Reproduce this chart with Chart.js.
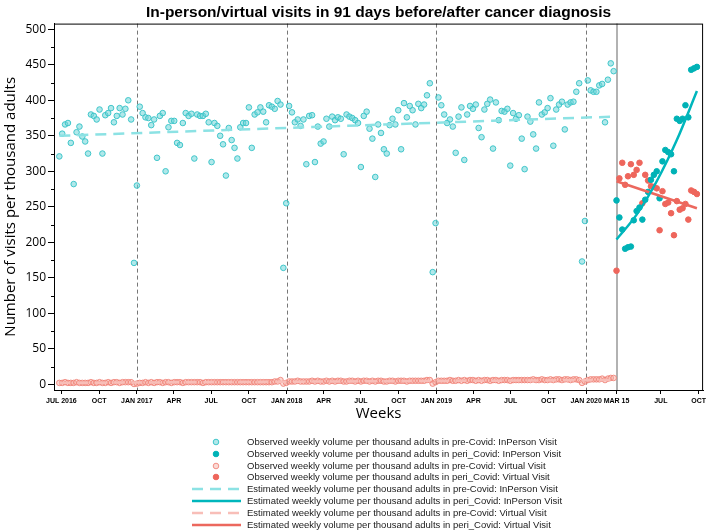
<!DOCTYPE html>
<html><head><meta charset="utf-8">
<script src="https://cdn.jsdelivr.net/npm/chart.js@4.4.1/dist/chart.umd.min.js"></script>
<style>
html,body{margin:0;padding:0;background:#fff;}
#wrap{position:relative;width:709px;height:530px;overflow:hidden;}
#c{position:absolute;left:0;top:0;}
#legend{position:absolute;left:0;top:0;width:709px;height:530px;pointer-events:none;font-family:"Liberation Sans",Arial,sans-serif;font-size:9.5px;color:#1a1a1a;}
.row{position:absolute;left:188px;height:12px;display:flex;align-items:center;white-space:nowrap;}
.row svg{width:56px;height:12px;flex:none;}
.row span{margin-left:3px;line-height:12px;}
</style></head>
<body><div id="wrap"><canvas id="c" width="709" height="530"></canvas><div id="legend"></div></div>
<script>
// ---------------- data ----------------
const chartTitle = 'In-person/virtual visits in 91 days before/after cancer diagnosis';
const yTitle = 'Number of visits per thousand adults';
const xTitle = 'Weeks';
const preStartDate = '2016-06-26';   // first pre-Covid week
const periStartDate = '2020-03-15';  // first peri-Covid week
const xMinDate = '2016-06-13';
const xMaxDate = '2020-10-12';
const tickDates = ['2016-07-01','2016-10-01','2017-01-01','2017-04-01','2017-07-01','2017-10-01','2018-01-01','2018-04-01','2018-07-01','2018-10-01','2019-01-01','2019-04-01','2019-07-01','2019-10-01','2020-01-01','2020-03-15','2020-07-01','2020-10-01'];
const tickLabels = ['JUL 2016','OCT','JAN 2017','APR','JUL','OCT','JAN 2018','APR','JUL','OCT','JAN 2019','APR','JUL','OCT','JAN 2020','MAR 15','JUL','OCT'];
const dashedRefDates = ['2017-01-01','2018-01-01','2019-01-01','2020-01-01'];
const solidRefDate = '2020-03-15';
const yTicks = [0,50,100,150,200,250,300,350,400,450,500];
const yMinorTicks = [25,75,125,175,225,275,325,375,425,475];

const preInPerson = [
 321,353,366,368,340,282,355,363,349,342,
 325,380,378,373,387,325,379,382,389,369,
 378,389,380,388,400,373,171,280,391,382,
 376,375,365,373,319,378,382,300,362,371,
 371,340,337,368,382,378,381,318,380,378,
 378,381,369,313,368,364,350,338,294,361,
 344,333,318,362,368,368,390,333,380,383,
 390,384,369,393,391,388,399,394,164,255,
 392,383,369,373,364,373,310,378,379,313,
 363,339,342,374,363,377,372,376,374,324,
 380,377,375,372,368,306,378,384,360,346,
 292,366,354,331,325,365,374,366,386,331,
 396,376,392,386,366,395,389,394,407,424,
 158,227,404,393,380,368,373,363,326,377,
 390,316,380,392,388,394,361,348,387,395,
 401,332,397,372,385,384,388,308,382,374,
 379,346,303,377,370,352,332,397,380,383,
 389,403,336,387,394,398,359,394,397,398,
 412,424,173,230,428,414,412,412,421,423,
 369,429,452,441];

const preVirtual = [
 2,2,3,2,2,2,3,2,2,2,2,3,2,2,3,2,2,3,2,3,3,2,3,3,3,3,
 0.5,1,
 2,2,3,2,3,2,3,3,2,3, 3,2,3,3,3,2,3,3,3,3, 3,3,2,3,3,3,3,3,3,3, 3,3,3,3,3,3,3,3,3,3, 3,3,3,3,3,3,3,4,4,6,
 1,2,
 4,4,4,5,4,4,4,4,5,4, 5,4,4,5,4,5,4,5,5,4, 4,5,5,4,5,4,5,5,4,5, 4,5,5,4,4,5,5,4,5,5, 5,4,5,5,5,5,5,5,6,6,
 1,3,
 5,5,5,5,6,5,5,6,5,6, 5,6,6,5,6,5,6,6,5,6, 6,5,6,6,6,5,6,6,6,6, 6,6,6,7,6,6,7,6,6,7, 6,7,7,6,7,7,6,7,7,6,
 2,4,
 6,7,7,7,7,8,6,8,9,9];

const periInPerson = [259,235,218,191,193,194,231,244,249,232,260,271,288,295,300,262,314,330,327,324,300,374,371,374,393,376,443,445,447];
const periVirtual  = [160,290,312,281,293,310,295,302,312,255,295,287,279,278,276,217,272,254,256,241,210,258,246,248,254,232,273,271,268];

// estimated (fitted) lines at a few weeks
const preFitWeeks = [0,193];
const preInPersonFit = [350,377];
const preVirtualFit = [2,6];
const periInPersonFitWeeks = [0,7,14,21,28];
const periInPersonFit = [204,239,286,344,413];
const periVirtualFitWeeks = [0,28];
const periVirtualFit = [286,248];

const seriesLabels = [
 'Observed weekly volume per thousand adults in pre-Covid: InPerson Visit',
 'Observed weekly volume per thousand adults in peri_Covid: InPerson Visit',
 'Observed weekly volume per thousand adults in pre-Covid: Virtual Visit',
 'Observed weekly volume per thousand adults in peri_Covid: Virtual Visit',
 'Estimated weekly volume per thousand adults in pre-Covid: InPerson Visit',
 'Estimated weekly volume per thousand adults in peri_Covid: InPerson Visit',
 'Estimated weekly volume per thousand adults in pre-Covid: Virtual Visit',
 'Estimated weekly volume per thousand adults in peri_Covid: Virtual Visit'];

// ---------------- helpers ----------------
const dayNum = s => Date.UTC(+s.slice(0,4), +s.slice(5,7)-1, +s.slice(8,10)) / 864e5;
const weekly = (start, vals) => vals.map((v,i) => ({x: dayNum(start) + 7*i, y: v}));
const atWeeks = (start, weeks, vals) => vals.map((v,i) => ({x: dayNum(start) + 7*weeks[i], y: v}));

const C = {
  preInFill:'rgba(112,214,216,0.55)', preInBorder:'rgba(58,196,200,0.95)',
  periIn:'rgb(0,178,182)',
  preVirFill:'rgba(247,170,160,0.45)', preVirBorder:'rgba(240,128,118,0.85)',
  periVir:'rgb(238,102,92)',
  preInLine:'rgb(140,226,228)', periInLine:'rgb(0,182,188)',
  preVirLine:'rgb(248,190,184)', periVirLine:'rgb(236,104,94)'
};

const pt = (fill, border, order, data, label) => ({type:'scatter', label, data, order,
  backgroundColor: fill, borderColor: border, pointRadius: 2.8, pointBorderWidth: 1, pointHoverRadius: 2.8, showLine:false});
const ln = (color, dash, order, data, label, curved) => ({type:'line', label, data, order,
  borderColor: color, backgroundColor: color, borderWidth: 2.5, borderDash: dash, pointRadius: 0, showLine: true, fill:false,
  cubicInterpolationMode: curved ? 'monotone' : 'default', tension: 0});

const datasets = [
  pt(C.preInFill, C.preInBorder, 3, weekly(preStartDate, preInPerson), seriesLabels[0]),
  pt(C.periIn, C.periIn, 2, weekly(periStartDate, periInPerson), seriesLabels[1]),
  pt(C.preVirFill, C.preVirBorder, 3, weekly(preStartDate, preVirtual), seriesLabels[2]),
  pt(C.periVir, C.periVir, 2, weekly(periStartDate, periVirtual), seriesLabels[3]),
  ln(C.preInLine, [11,7], 1, atWeeks(preStartDate, preFitWeeks, preInPersonFit), seriesLabels[4]),
  ln(C.periInLine, [], 0, atWeeks(periStartDate, periInPersonFitWeeks, periInPersonFit), seriesLabels[5], true),
  ln(C.preVirLine, [11,7], 1, atWeeks(preStartDate, preFitWeeks, preVirtualFit), seriesLabels[6]),
  ln(C.periVirLine, [], 0, atWeeks(periStartDate, periVirtualFitWeeks, periVirtualFit), seriesLabels[7])
];

const decor = {
  id: 'decor',
  beforeDatasetsDraw(chart) {
    const {ctx, chartArea: a, scales: {x}} = chart;
    ctx.save();
    ctx.strokeStyle = '#777'; ctx.lineWidth = 1; ctx.setLineDash([4,3]);
    dashedRefDates.forEach(d => {
      const px = Math.round(x.getPixelForValue(dayNum(d))) + 0.5;
      ctx.beginPath(); ctx.moveTo(px, a.top); ctx.lineTo(px, a.bottom); ctx.stroke();
    });
    ctx.setLineDash([]); ctx.strokeStyle = '#999'; ctx.lineWidth = 1.5;
    const ps = Math.round(x.getPixelForValue(dayNum(solidRefDate)));
    ctx.beginPath(); ctx.moveTo(ps, a.top); ctx.lineTo(ps, a.bottom); ctx.stroke();
    ctx.restore();
  },
  afterDraw(chart) {
    const {ctx, chartArea: a, scales: {y}} = chart;
    ctx.save();
    ctx.strokeStyle = '#000'; ctx.lineWidth = 1;
    ctx.strokeRect(a.left + 0.5, a.top + 0.5, a.right - a.left - 1, a.bottom - a.top);
    yMinorTicks.forEach(v => {
      const py = Math.round(y.getPixelForValue(v)) + 0.5;
      ctx.beginPath(); ctx.moveTo(a.left - 3, py); ctx.lineTo(a.left, py); ctx.stroke();
    });
    ctx.restore();
  }
};

const chart = new Chart(document.getElementById('c'), {
  type: 'scatter',
  data: { datasets },
  plugins: [decor],
  options: {
    responsive: false, animation: false, devicePixelRatio: 1,
    layout: { padding: { left: 0, right: 4, top: 0, bottom: 105 } },
    plugins: {
      legend: { display: false }, tooltip: { enabled: false },
      title: { display: true, fullSize: false, text: chartTitle, color: '#000',
        font: { family: '"Liberation Sans", Arial, sans-serif', size: 15.5, weight: 'bold' },
        padding: { top: 3, bottom: 2 } }
    },
    scales: {
      x: { type: 'linear', min: dayNum(xMinDate), max: dayNum(xMaxDate),
        afterBuildTicks: s => { s.ticks = tickDates.map(d => ({ value: dayNum(d) })); },
        afterFit: s => { s.height = 35; },
        grid: { display: true, drawOnChartArea: false, drawTicks: true, tickLength: 4, color: '#000' },
        border: { display: true, color: '#000' },
        ticks: { autoSkip: false, maxRotation: 0, minRotation: 0, padding: 3, color: '#000',
          font: { family: '"Liberation Sans", Arial, sans-serif', size: 7, weight: 'bold' },
          callback: (v, i) => tickLabels[i] },
        title: { display: true, text: xTitle, color: '#000',
          font: { family: '"Open Sans", sans-serif', size: 15 }, padding: { top: 0, bottom: 2 } }
      },
      y: { type: 'linear', min: -8, max: 508,
        afterBuildTicks: s => { s.ticks = yTicks.map(v => ({ value: v })); },
        afterFit: s => { s.width = 54; },
        grid: { display: true, drawOnChartArea: false, drawTicks: true, tickLength: 6, color: '#000' },
        border: { display: true, color: '#000' },
        ticks: { padding: 2, color: '#000', font: { family: '"Open Sans", sans-serif', size: 12 } },
        title: { display: true, text: yTitle, color: '#000',
          font: { family: '"Open Sans", sans-serif', size: 15 }, padding: { top: 2, bottom: 0 } }
      }
    }
  }
});

// ---------------- HTML legend built from the datasets ----------------
(function buildLegend() {
  const box = document.getElementById('legend');
  const rowTop = 436, rowStep = 11.8;
  chart.data.datasets.forEach((ds, k) => {
    const row = document.createElement('div');
    row.className = 'row';
    row.style.top = (rowTop + k * rowStep) + 'px';
    let sym;
    if (ds.type === 'scatter') {
      sym = `<svg viewBox="0 0 56 12"><circle cx="28" cy="6" r="2.8" fill="${ds.backgroundColor}" stroke="${ds.borderColor}" stroke-width="1"/></svg>`;
    } else {
      const dash = ds.borderDash && ds.borderDash.length ? `stroke-dasharray="${ds.borderDash.join(' ')}"` : '';
      sym = `<svg viewBox="0 0 56 12"><line x1="4" y1="6" x2="53" y2="6" stroke="${ds.borderColor}" stroke-width="2.5" ${dash}/></svg>`;
    }
    row.innerHTML = sym + `<span>${ds.label}</span>`;
    box.appendChild(row);
  });
})();
</script>
</body></html>
